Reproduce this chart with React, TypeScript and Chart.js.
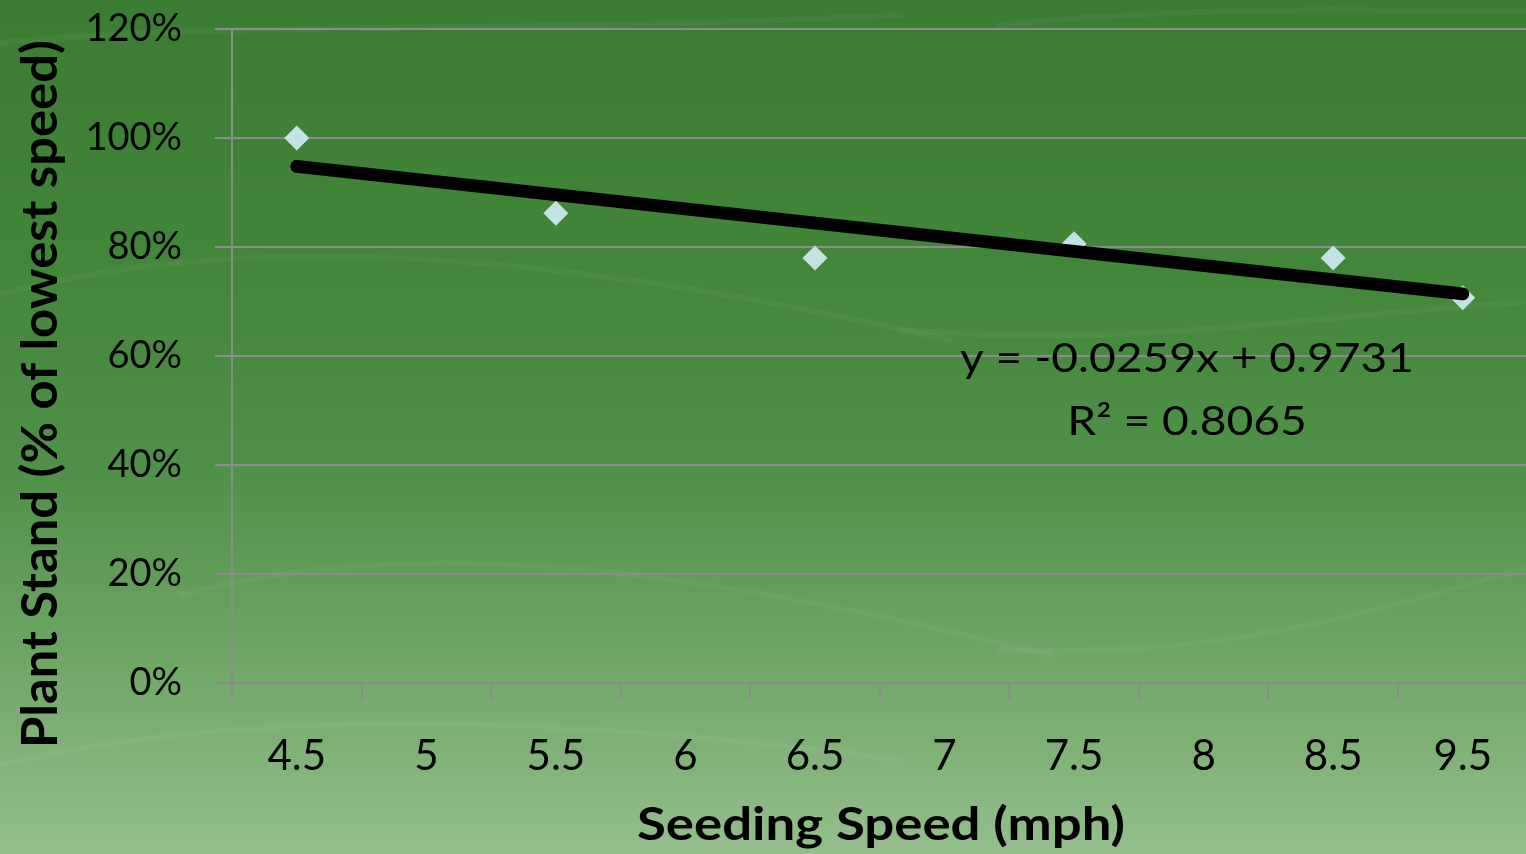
import React, { useEffect, useRef } from "react";
import { Chart, registerables } from "chart.js";

Chart.register(...registerables);

// ---- data ----
const categories = ["4.5", "5", "5.5", "6", "6.5", "7", "7.5", "8", "8.5", "9.5"];
const plantStand = [100, null, 86.2, null, 78.0, null, 80.6, null, 78.0, 70.7];
const trendline = [94.8, null, null, null, null, null, null, null, null, 71.4];
const yTickValues = [0, 20, 40, 60, 80, 100, 120];
const equationLines = ["y = -0.0259x + 0.9731", "R\u00B2 = 0.8065"];
const xTitle = "Seeding Speed (mph)";
const yTitle = "Plant Stand (% of lowest speed)";

const FONT = "Lato, 'Open Sans', sans-serif";
const GRID = "#8c8c8c";

const backgroundPlugin = {
  id: "greenBackground",
  beforeDraw(chart: any) {
    const { ctx, width, height } = chart;
    ctx.save();
    const g = ctx.createLinearGradient(0, 0, 0, height);
    g.addColorStop(0, "#3b7d33");
    g.addColorStop(0.3, "#428639");
    g.addColorStop(0.55, "#4f9148");
    g.addColorStop(0.75, "#6ba462");
    g.addColorStop(1, "#94be8c");
    ctx.fillStyle = g;
    ctx.fillRect(0, 0, width, height);
    ctx.strokeStyle = "rgba(255,255,255,0.04)";
    ctx.lineWidth = 6;
    ctx.lineCap = "round";
    const waves = [
      [[-20, 300], [250, 220], [600, 260], [950, 340]],
      [[900, 330], [1150, 350], [1350, 310], [1560, 300]],
      [[180, 595], [420, 530], [700, 570], [1050, 655]],
      [[1000, 650], [1250, 660], [1400, 600], [1560, 560]],
      [[-20, 45], [200, 20], [500, 35], [900, 15]],
      [[-20, 770], [250, 700], [600, 720], [900, 760]],
      [[1000, 25], [1250, 0], [1450, 15], [1560, 10]],
    ];
    for (const w of waves) {
      ctx.beginPath();
      ctx.moveTo(w[0][0], w[0][1]);
      ctx.bezierCurveTo(w[1][0], w[1][1], w[2][0], w[2][1], w[3][0], w[3][1]);
      ctx.stroke();
    }
    ctx.restore();
  },
};

function fitText(ctx: CanvasRenderingContext2D, text: string, targetWidth: number) {
  const w = ctx.measureText(text).width;
  return w > 0 ? targetWidth / w : 1;
}

const textPlugin = {
  id: "chartTexts",
  afterDraw(chart: any) {
    const { ctx } = chart;
    ctx.save();
    ctx.fillStyle = "#000";
    ctx.textBaseline = "alphabetic";
    ctx.textAlign = "center";

    // x axis title
    ctx.font = `bold 46px ${FONT}`;
    let s = fitText(ctx, xTitle, 488);
    ctx.save();
    ctx.translate(881, 840);
    ctx.scale(s, 1);
    ctx.fillText(xTitle, 0, 0);
    ctx.restore();

    // y axis title
    ctx.font = `bold 50px ${FONT}`;
    s = fitText(ctx, yTitle, 708);
    ctx.save();
    ctx.translate(57, 394);
    ctx.rotate(-Math.PI / 2);
    ctx.scale(s, 1);
    ctx.fillText(yTitle, 0, 0);
    ctx.restore();

    // trendline equation
    ctx.font = `40px ${FONT}`;
    s = fitText(ctx, equationLines[0], 454);
    const baselines = [372, 435];
    equationLines.forEach((line, i) => {
      ctx.save();
      ctx.translate(1187, baselines[i]);
      ctx.scale(s, 1);
      ctx.fillText(line, 0, 0);
      ctx.restore();
    });
    ctx.restore();
  },
};

export default function App() {
  const ref = useRef<HTMLCanvasElement>(null);

  useEffect(() => {
    document.body.style.margin = "0";
    const chart = new Chart(ref.current as HTMLCanvasElement, {
      type: "line",
      data: {
        labels: categories,
        datasets: [
          {
            label: "Linear trend",
            data: trendline,
            spanGaps: true,
            borderColor: "#000000",
            borderWidth: 13,
            borderCapStyle: "round",
            pointRadius: 0,
            fill: false,
            order: 0,
          },
          {
            label: "Plant stand",
            data: plantStand,
            showLine: false,
            pointStyle: "rectRot",
            pointRadius: 12.5,
            pointBackgroundColor: "#c4e2e6",
            pointBorderColor: "#c4e2e6",
            pointBorderWidth: 0,
            order: 1,
          },
        ],
      } as any,
      options: {
        responsive: false,
        devicePixelRatio: 1,
        animation: false,
        layout: { padding: { left: 0, right: 3, top: 29, bottom: 0 } },
        plugins: {
          legend: { display: false },
          tooltip: { enabled: false },
          title: { display: false },
        },
        events: [],
        scales: {
          x: {
            type: "category",
            offset: true,
            grid: {
              offset: true,
              drawOnChartArea: false,
              drawTicks: true,
              tickLength: 16,
              color: GRID,
              lineWidth: 2,
            },
            border: { color: GRID, width: 2 },
            ticks: {
              color: "#000",
              font: { family: FONT, size: 42 },
              padding: 32,
              maxRotation: 0,
              autoSkip: false,
            },
            afterFit: (scale: any) => {
              scale.height = 171;
            },
          },
          y: {
            min: 0,
            max: 120,
            afterBuildTicks: (scale: any) => {
              scale.ticks = yTickValues.map((v) => ({ value: v }));
            },
            ticks: {
              color: "#000",
              font: { family: FONT, size: 38 },
              padding: 33,
              callback: (v: any) => `${v}%`,
            },
            grid: { color: GRID, lineWidth: 2, tickLength: 17, drawTicks: true },
            border: { color: GRID, width: 2 },
            afterFit: (scale: any) => {
              scale.width = 232;
              scale.paddingTop = 0;
              scale.paddingBottom = 0;
            },
          },
        },
      } as any,
      plugins: [backgroundPlugin, textPlugin],
    });
    return () => chart.destroy();
  }, []);

  return (
    <div
      style={{
        position: "absolute",
        left: 0,
        top: 0,
        width: 1526,
        height: 854,
        overflow: "hidden",
      }}
    >
      <canvas
        ref={ref}
        width={1540}
        height={854}
        style={{ display: "block", width: 1540, height: 854 }}
      />
    </div>
  );
}
